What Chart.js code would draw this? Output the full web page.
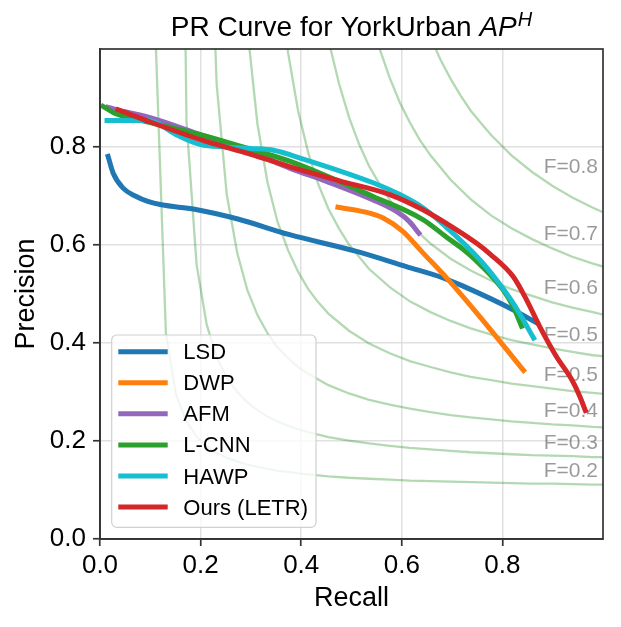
<!DOCTYPE html>
<html lang="en">
<head>
<meta charset="utf-8">
<title>PR Curve for YorkUrban</title>
<script src="https://cdn.jsdelivr.net/npm/chart.js@4.4.0/dist/chart.umd.min.js"></script>
<style>
  html, body { margin: 0; padding: 0; background: #fff; }
  #wrap { width: 621px; height: 627px; }
</style>
</head>
<body>
<div id="wrap"><canvas id="pr" width="621" height="627"></canvas></div>
<script>
// methods, in legend order
var methods = ["LSD", "DWP", "AFM", "L-CNN", "HAWP", "Ours (LETR)"];
var methodColors = ["#1f77b4", "#ff7f0e", "#9467bd", "#2ca02c", "#17becf", "#d62728"];

// curves (recall, precision)
var lsdRecall = [0.016, 0.026, 0.046, 0.07, 0.095, 0.122, 0.188, 0.274, 0.377, 0.51, 0.609, 0.682, 0.722, 0.821, 0.868];
var lsdPrecision = [0.781, 0.747, 0.716, 0.700, 0.689, 0.682, 0.673, 0.653, 0.621, 0.587, 0.556, 0.533, 0.516, 0.468, 0.441];

var dwpRecall = [0.473, 0.536, 0.563, 0.602, 0.642, 0.689, 0.755, 0.842];
var dwpPrecision = [0.677, 0.665, 0.655, 0.628, 0.584, 0.533, 0.454, 0.344];

var afmRecall = [0.016, 0.05, 0.1, 0.2, 0.3, 0.377, 0.45, 0.543, 0.59, 0.615, 0.634];
var afmPrecision = [0.881, 0.872, 0.86, 0.825, 0.79, 0.757, 0.73, 0.692, 0.668, 0.648, 0.624];

var lcnnRecall = [0.006, 0.029, 0.1, 0.2, 0.3, 0.377, 0.543, 0.642, 0.689, 0.722, 0.755, 0.801, 0.821, 0.838];
var lcnnPrecision = [0.883, 0.869, 0.85, 0.825, 0.795, 0.771, 0.699, 0.652, 0.616, 0.591, 0.561, 0.509, 0.475, 0.434];

var hawpRecall = [0.014, 0.095, 0.115, 0.15, 0.2, 0.25, 0.3, 0.347, 0.387, 0.543, 0.596, 0.642, 0.689, 0.755, 0.788, 0.821, 0.841, 0.862];
var hawpPrecision = [0.854, 0.854, 0.848, 0.826, 0.805, 0.80, 0.797, 0.793, 0.781, 0.727, 0.703, 0.676, 0.636, 0.57, 0.529, 0.482, 0.448, 0.41];

var letrRecall = [0.036, 0.1, 0.2, 0.3, 0.377, 0.476, 0.576, 0.642, 0.709, 0.748, 0.775, 0.821, 0.848, 0.874, 0.907, 0.938, 0.954, 0.965];
var letrPrecision = [0.876, 0.851, 0.815, 0.785, 0.76, 0.731, 0.703, 0.672, 0.631, 0.604, 0.582, 0.536, 0.488, 0.434, 0.373, 0.325, 0.291, 0.262];

// iso-F guide curves, [recall, precision]
var isoF1 = [[0.111,1.008],[0.131,0.420],[0.151,0.295],[0.172,0.240],[0.192,0.209],[0.212,0.189],[0.232,0.176],[0.252,0.166],[0.273,0.158],[0.293,0.152],[0.313,0.147],[0.333,0.143],[0.353,0.139],[0.374,0.137],[0.394,0.134],[0.414,0.132],[0.454,0.128],[0.495,0.125],[0.535,0.123],[0.576,0.121],[0.616,0.119],[0.657,0.118],[0.697,0.117],[0.737,0.116],[0.778,0.115],[0.818,0.114],[0.859,0.113],[0.899,0.113],[0.939,0.112],[0.980,0.111],[1.0,0.111]];
var isoF2 = [[0.151,2.524],[0.172,0.852],[0.192,0.560],[0.212,0.438],[0.232,0.371],[0.252,0.329],[0.273,0.300],[0.293,0.279],[0.313,0.263],[0.333,0.250],[0.353,0.240],[0.374,0.231],[0.394,0.224],[0.414,0.218],[0.454,0.208],[0.495,0.201],[0.535,0.195],[0.576,0.190],[0.616,0.186],[0.657,0.183],[0.697,0.180],[0.737,0.177],[0.778,0.175],[0.818,0.173],[0.859,0.171],[0.899,0.170],[0.939,0.169],[0.980,0.167],[1.0,0.167]];
var isoF3 = [[0.212,1.496],[0.232,0.927],[0.252,0.703],[0.273,0.583],[0.293,0.508],[0.313,0.457],[0.333,0.420],[0.353,0.391],[0.374,0.369],[0.394,0.351],[0.414,0.337],[0.454,0.314],[0.495,0.297],[0.535,0.284],[0.576,0.274],[0.616,0.266],[0.657,0.259],[0.697,0.253],[0.737,0.248],[0.778,0.244],[0.818,0.240],[0.859,0.237],[0.899,0.234],[0.939,0.232],[0.980,0.229],[1.0,0.228]];
var isoF4 = [[0.293,1.041],[0.313,0.847],[0.333,0.728],[0.353,0.647],[0.374,0.589],[0.394,0.545],[0.414,0.510],[0.434,0.483],[0.454,0.460],[0.495,0.425],[0.535,0.399],[0.576,0.379],[0.616,0.363],[0.657,0.351],[0.697,0.340],[0.737,0.331],[0.778,0.324],[0.818,0.317],[0.859,0.312],[0.899,0.307],[0.939,0.302],[0.980,0.298],[1.0,0.296]];
var isoF5 = [[0.353,1.169],[0.374,0.992],[0.394,0.873],[0.414,0.788],[0.434,0.724],[0.454,0.674],[0.475,0.634],[0.495,0.601],[0.535,0.551],[0.576,0.514],[0.616,0.485],[0.657,0.463],[0.697,0.445],[0.737,0.430],[0.778,0.417],[0.818,0.406],[0.859,0.397],[0.899,0.389],[0.939,0.382],[0.980,0.375],[1.0,0.373]];
var isoF6 = [[0.454,1.019],[0.475,0.930],[0.495,0.861],[0.515,0.806],[0.535,0.761],[0.556,0.724],[0.576,0.692],[0.596,0.665],[0.616,0.642],[0.657,0.603],[0.697,0.572],[0.737,0.548],[0.778,0.527],[0.818,0.510],[0.859,0.496],[0.899,0.483],[0.939,0.472],[0.980,0.463],[1.0,0.458]];
var isoF7 = [[0.535,1.073],[0.556,1.000],[0.576,0.941],[0.596,0.891],[0.616,0.850],[0.636,0.814],[0.657,0.783],[0.697,0.733],[0.737,0.693],[0.778,0.660],[0.818,0.634],[0.859,0.612],[0.899,0.593],[0.939,0.576],[0.980,0.562],[1.0,0.556]];
var isoF8 = [[0.657,1.024],[0.677,0.978],[0.697,0.939],[0.717,0.905],[0.737,0.874],[0.758,0.848],[0.778,0.824],[0.818,0.783],[0.859,0.749],[0.899,0.721],[0.939,0.697],[0.980,0.676],[1.0,0.667]];

// labels for the guide curves and where their baselines sit
var isoLabels = ["F=0.2", "F=0.3", "F=0.4", "F=0.5", "F=0.5", "F=0.6", "F=0.7", "F=0.8"];
var isoLabelY = [0.127, 0.183, 0.25, 0.322, 0.405, 0.50, 0.61, 0.747];
var isoLabelX = 0.882;

var tickValues = [0, 0.2, 0.4, 0.6, 0.8];

var FONT = "'Liberation Sans', Arial, Helvetica, sans-serif";
Chart.defaults.font.family = FONT;
Chart.defaults.color = "#000";

function pts(xs, ys) {
  return xs.map(function (x, i) { return { x: x, y: ys[i] }; });
}

var series = [
  [lsdRecall, lsdPrecision],
  [dwpRecall, dwpPrecision],
  [afmRecall, afmPrecision],
  [lcnnRecall, lcnnPrecision],
  [hawpRecall, hawpPrecision],
  [letrRecall, letrPrecision]
];

var datasets = [];
[isoF1, isoF2, isoF3, isoF4, isoF5, isoF6, isoF7, isoF8].forEach(function (c, i) {
  datasets.push({
    label: isoLabels[i],
    data: c.map(function (p) { return { x: p[0], y: p[1] }; }),
    borderColor: "rgba(0,128,0,0.3)",
    borderWidth: 2.3,
    pointRadius: 0,
    tension: 0,
    clip: 0,
    order: 20
  });
});
series.forEach(function (s, i) {
  datasets.push({
    label: methods[i],
    data: pts(s[0], s[1]),
    borderColor: methodColors[i],
    borderWidth: 5,
    pointRadius: 0,
    cubicInterpolationMode: "monotone",
    borderCapStyle: "square",
    borderJoinStyle: "round",
    clip: 0,
    order: 10 - i
  });
});

var extras = {
  id: "extras",
  beforeDatasetsDraw: function (chart) {
    // F=... labels
    var ctx = chart.ctx, xs = chart.scales.x, ys = chart.scales.y;
    ctx.save();
    ctx.font = "21px " + FONT;
    ctx.fillStyle = "rgba(0,0,0,0.4)";
    ctx.textAlign = "left";
    ctx.textBaseline = "alphabetic";
    isoLabels.forEach(function (t, i) {
      ctx.fillText(t, xs.getPixelForValue(isoLabelX), ys.getPixelForValue(isoLabelY[i]));
    });
    ctx.restore();
  },
  afterDatasetsDraw: function (chart) {
    var ctx = chart.ctx, a = chart.chartArea;
    ctx.save();
    // frame
    ctx.strokeStyle = "#333";
    ctx.lineWidth = 1.7;
    ctx.strokeRect(a.left, a.top, a.right - a.left, a.bottom - a.top);

    // legend box, lower left
    var bw = 204.3, bh = 192.3;
    var bx = a.left + 11.7, by = a.bottom - 11.7 - bh;
    ctx.beginPath();
    ctx.roundRect(bx, by, bw, bh, 5);
    ctx.fillStyle = "rgba(255,255,255,0.8)";
    ctx.fill();
    ctx.strokeStyle = "#d0d0d0";
    ctx.lineWidth = 1.2;
    ctx.stroke();
    ctx.font = "22px " + FONT;
    ctx.textBaseline = "middle";
    ctx.textAlign = "left";
    methods.forEach(function (m, i) {
      var y = by + 16.7 + i * 31.06;
      ctx.beginPath();
      ctx.moveTo(bx + 6.6, y);
      ctx.lineTo(bx + 56, y);
      ctx.strokeStyle = methodColors[i];
      ctx.lineWidth = 5;
      ctx.stroke();
      ctx.fillStyle = "#000";
      ctx.fillText(m, bx + 71.6, y + 1.5);
    });
    ctx.restore();
  },
  afterDraw: function (chart) {
    // title with italic AP and superscript H
    var ctx = chart.ctx, a = chart.chartArea;
    var main = "PR Curve for YorkUrban ", ap = "AP", sup = "H";
    ctx.save();
    ctx.fillStyle = "#000";
    ctx.textBaseline = "alphabetic";
    ctx.textAlign = "left";
    ctx.font = "28px " + FONT;
    var w1 = ctx.measureText(main).width;
    ctx.font = "italic 28px " + FONT;
    var w2 = ctx.measureText(ap).width;
    ctx.font = "italic 20px " + FONT;
    var w3 = ctx.measureText(sup).width;
    var x = (a.left + a.right) / 2 - (w1 + w2 + w3 + 1) / 2;
    var base = 36;
    ctx.font = "28px " + FONT;
    ctx.fillText(main, x, base);
    ctx.font = "italic 28px " + FONT;
    ctx.fillText(ap, x + w1, base);
    ctx.font = "italic 20px " + FONT;
    ctx.fillText(sup, x + w1 + w2 + 1, base - 10);
    ctx.restore();
  }
};

function keepTicks(scale) {
  scale.ticks = tickValues.map(function (v) { return { value: v }; });
}

new Chart(document.getElementById("pr"), {
  type: "line",
  data: { datasets: datasets },
  options: {
    responsive: false,
    animation: false,
    layout: { padding: { top: 49, right: 18, left: 0, bottom: 0 } },
    plugins: {
      legend: { display: false },
      tooltip: { enabled: false },
      title: { display: false }
    },
    scales: {
      x: {
        type: "linear",
        min: 0,
        max: 1,
        afterBuildTicks: keepTicks,
        afterFit: function (s) { s.height = 88; },
        ticks: {
          font: { size: 26 },
          color: "#000",
          padding: 4,
          maxRotation: 0,
          callback: function (v) { return v.toFixed(1); }
        },
        grid: { color: "#e0e0e0", lineWidth: 1.5, tickLength: 7, tickColor: "#333", tickWidth: 1.7 },
        border: { color: "#333", width: 1.7 },
        title: { display: true, text: "Recall", font: { size: 27 }, color: "#000", padding: { top: 0, bottom: 12.5 } }
      },
      y: {
        type: "linear",
        min: 0,
        max: 1,
        afterBuildTicks: keepTicks,
        afterFit: function (s) { s.width = 100; },
        ticks: {
          font: { size: 26 },
          color: "#000",
          padding: 7,
          callback: function (v) { return v.toFixed(1); }
        },
        grid: { color: "#e0e0e0", lineWidth: 1.5, tickLength: 7, tickColor: "#333", tickWidth: 1.7 },
        border: { color: "#333", width: 1.7 },
        title: { display: true, text: "Precision", font: { size: 27 }, color: "#000", padding: { top: 10.5, bottom: 0 } }
      }
    }
  },
  plugins: [extras]
});
</script>
</body>
</html>
